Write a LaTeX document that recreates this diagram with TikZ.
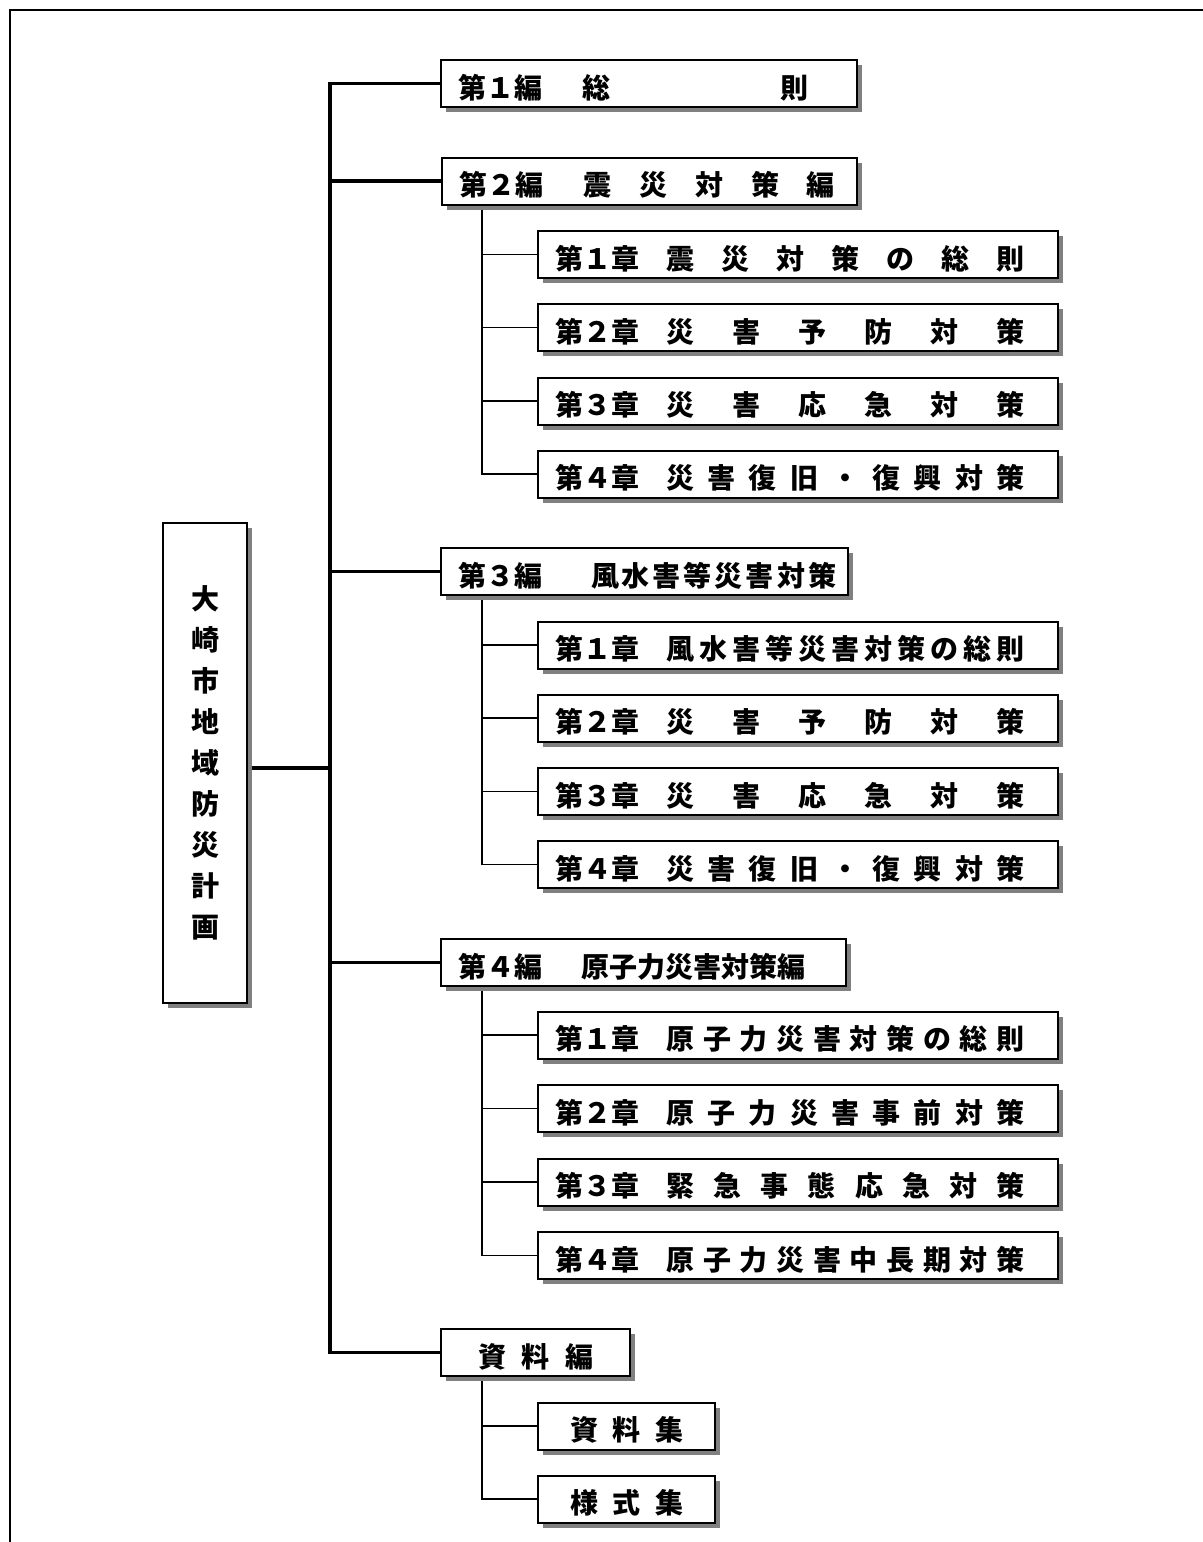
\documentclass[tikz,border=0pt]{standalone}
\usepackage{fontspec}
\newfontfamily\jp{Noto Sans CJK JP}
\usetikzlibrary{shadows}
\pgfdeclarelayer{background}
\pgfsetlayers{background,main}
\begin{document}
\begin{tikzpicture}[x=0.5pt,y=-0.5pt,
  font=\jp\bfseries\fontsize{14}{16}\selectfont,
  box/.style={draw, line width=1pt, fill=white, inner sep=0pt, minimum height=23.5pt,
    text height=14.6pt, text depth=0pt,
    drop shadow={shadow xshift=2.5pt, shadow yshift=-2.5pt, fill=black!50, opacity=1}},
  tallbox/.style={draw, line width=1pt, fill=white, inner sep=0pt,
    drop shadow={shadow xshift=2.5pt, shadow yshift=-2.5pt, fill=black!50, opacity=1}},
  trunk/.style={line width=1.6pt},
  twig/.style={line width=0.8pt}]
\useasboundingbox (0,0) rectangle (1203,1542);
\draw[line width=1pt] (9.5,1545) -- (9.5,10) -- (1206,10);

% main box
\node[tallbox, minimum width=42pt, minimum height=240pt, align=center,
  font=\jp\bfseries\fontsize{14}{20.5}\selectfont] (main) at (205,763)
  {大\\崎\\市\\地\\域\\防\\災\\計\\画};

% level 1
\node[box] (b1) at (649,83.5) {\hbox to 208pt{\hspace{8.75pt}\hbox to 42pt{第１編}\hspace{20.25pt}\hbox to 112.5pt{総\hfill 則}\hfill}};
\node[box] (b2) at (649.5,181) {\hbox to 207.5pt{\hspace{8.75pt}\hbox to 42pt{第２編}\hspace{20.25pt}\hbox to 125.5pt{震\hfill 災\hfill 対\hfill 策\hfill 編}\hfill}};
\node[box] (b3) at (644.5,571.5) {\hbox to 203.5pt{\hspace{8.75pt}\hbox to 42pt{第３編}\hspace{24.25pt}\hbox to 122.5pt{風\hfill 水\hfill 害\hfill 等\hfill 災\hfill 害\hfill 対\hfill 策}\hfill}};
\node[box] (b4) at (643.5,962.5) {\hbox to 202.5pt{\hspace{8.75pt}\hbox to 42pt{第４編}\hspace{19.75pt}\hbox to 112pt{原\hfill 子\hfill 力\hfill 災\hfill 害\hfill 対\hfill 策\hfill 編}\hfill}};
\node[box] (b5) at (535.5,1352.5) {\hbox to 94.5pt{\hspace{18.75pt}\hbox to 57.5pt{資\hfill 料\hfill 編}\hfill}};

% chapters part 2
\node[box] (c21) at (798,254.5) {\hbox to 260pt{\hspace{8.75pt}\hbox to 42pt{第１章}\hspace{13.5pt}\hbox to 179pt{震\hfill 災\hfill 対\hfill 策\hfill の\hfill 総\hfill 則}\hfill}};
\node[box] (c22) at (798,327.5) {\hbox to 260pt{\hspace{8.75pt}\hbox to 42pt{第２章}\hspace{13.5pt}\hbox to 179pt{災\hfill 害\hfill 予\hfill 防\hfill 対\hfill 策}\hfill}};
\node[box] (c23) at (798,401) {\hbox to 260pt{\hspace{8.75pt}\hbox to 42pt{第３章}\hspace{13.5pt}\hbox to 179pt{災\hfill 害\hfill 応\hfill 急\hfill 対\hfill 策}\hfill}};
\node[box] (c24) at (798,474) {\hbox to 260pt{\hspace{8.75pt}\hbox to 42pt{第４章}\hspace{13.5pt}\hbox to 179pt{災\hfill 害\hfill 復\hfill 旧\hfill ・\hfill 復\hfill 興\hfill 対\hfill 策}\hfill}};

% chapters part 3
\node[box] (c31) at (798,645) {\hbox to 260pt{\hspace{8.75pt}\hbox to 42pt{第１章}\hspace{13.5pt}\hbox to 179pt{風\hfill 水\hfill 害\hfill 等\hfill 災\hfill 害\hfill 対\hfill 策\hfill の\hfill 総\hfill 則}\hfill}};
\node[box] (c32) at (798,718) {\hbox to 260pt{\hspace{8.75pt}\hbox to 42pt{第２章}\hspace{13.5pt}\hbox to 179pt{災\hfill 害\hfill 予\hfill 防\hfill 対\hfill 策}\hfill}};
\node[box] (c33) at (798,791.5) {\hbox to 260pt{\hspace{8.75pt}\hbox to 42pt{第３章}\hspace{13.5pt}\hbox to 179pt{災\hfill 害\hfill 応\hfill 急\hfill 対\hfill 策}\hfill}};
\node[box] (c34) at (798,864.5) {\hbox to 260pt{\hspace{8.75pt}\hbox to 42pt{第４章}\hspace{13.5pt}\hbox to 179pt{災\hfill 害\hfill 復\hfill 旧\hfill ・\hfill 復\hfill 興\hfill 対\hfill 策}\hfill}};

% chapters part 4
\node[box] (c41) at (798,1035) {\hbox to 260pt{\hspace{8.75pt}\hbox to 42pt{第１章}\hspace{13.5pt}\hbox to 179pt{原\hfill 子\hfill 力\hfill 災\hfill 害\hfill 対\hfill 策\hfill の\hfill 総\hfill 則}\hfill}};
\node[box] (c42) at (798,1108.5) {\hbox to 260pt{\hspace{8.75pt}\hbox to 42pt{第２章}\hspace{13.5pt}\hbox to 179pt{原\hfill 子\hfill 力\hfill 災\hfill 害\hfill 事\hfill 前\hfill 対\hfill 策}\hfill}};
\node[box] (c43) at (798,1182) {\hbox to 260pt{\hspace{8.75pt}\hbox to 42pt{第３章}\hspace{13.5pt}\hbox to 179pt{緊\hfill 急\hfill 事\hfill 態\hfill 応\hfill 急\hfill 対\hfill 策}\hfill}};
\node[box] (c44) at (798,1255.5) {\hbox to 260pt{\hspace{8.75pt}\hbox to 42pt{第４章}\hspace{13.5pt}\hbox to 179pt{原\hfill 子\hfill 力\hfill 災\hfill 害\hfill 中\hfill 長\hfill 期\hfill 対\hfill 策}\hfill}};

% appendix
\node[box] (c51) at (626.5,1426) {\hbox to 88.5pt{\hspace{16.25pt}\hbox to 56.5pt{資\hfill 料\hfill 集}\hfill}};
\node[box] (c52) at (626.5,1499) {\hbox to 88.5pt{\hspace{16.25pt}\hbox to 56.5pt{様\hfill 式\hfill 集}\hfill}};

\coordinate (tk) at (330,0);
\coordinate (sk) at (482,0);
\coordinate (mainout) at ([yshift=-2.5pt]main.east);

\begin{pgfonlayer}{background}
\draw[trunk] (mainout) -- (mainout -| tk);
\draw[trunk] (b1.west) -- (b1.west -| tk) -- (b5.west -| tk) -- (b5.west);
\foreach \b in {b2,b3,b4} \draw[trunk] (\b.west -| tk) -- (\b.west);
\draw[twig] (b2.south -| sk) -- (c24.west -| sk) -- (c24.west);
\foreach \c in {c21,c22,c23} \draw[twig] (\c.west -| sk) -- (\c.west);
\draw[twig] (b3.south -| sk) -- (c34.west -| sk) -- (c34.west);
\foreach \c in {c31,c32,c33} \draw[twig] (\c.west -| sk) -- (\c.west);
\draw[twig] (b4.south -| sk) -- (c44.west -| sk) -- (c44.west);
\foreach \c in {c41,c42,c43} \draw[twig] (\c.west -| sk) -- (\c.west);
\draw[twig] (b5.south -| sk) -- (c52.west -| sk) -- (c52.west);
\draw[twig] (c51.west -| sk) -- (c51.west);
\end{pgfonlayer}
\end{tikzpicture}
\end{document}
